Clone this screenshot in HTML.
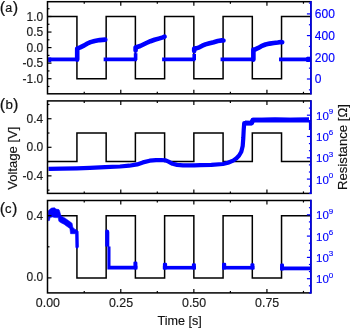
<!DOCTYPE html>
<html><head><meta charset="utf-8"><style>
html,body{margin:0;padding:0;background:#fff;}
body{width:350px;height:328px;overflow:hidden;font-family:"Liberation Sans",sans-serif;}
svg{display:block;will-change:transform;}
</style></head><body>
<svg width="350" height="328" viewBox="0 0 350 328" font-family="Liberation Sans, sans-serif">
<rect width="350" height="328" fill="#fff"/>
<polyline points="47.50,16.50 76.93,16.50 76.93,78.70 106.16,78.70 106.16,16.50 135.39,16.50 135.39,78.70 164.62,78.70 164.62,16.50 193.85,16.50 193.85,78.70 223.08,78.70 223.08,16.50 252.31,16.50 252.31,78.70 281.54,78.70 281.54,16.50 310.90,16.50" fill="none" stroke="#000" stroke-width="1.5" />
<polyline points="48.30,59.40 78.43,59.40" fill="none" stroke="#0000ff" stroke-width="3.8" />
<polyline points="103.66,59.40 136.89,59.40" fill="none" stroke="#0000ff" stroke-width="3.8" />
<polyline points="162.12,59.40 195.35,59.40" fill="none" stroke="#0000ff" stroke-width="3.8" />
<polyline points="220.58,59.40 253.81,59.40" fill="none" stroke="#0000ff" stroke-width="3.8" />
<polyline points="279.04,59.40 310.90,59.40" fill="none" stroke="#0000ff" stroke-width="3.8" />
<polyline points="77.20,59.60 77.20,48.60 80.20,47.40 84.30,45.40 87.40,43.50 90.50,42.10 94.60,41.00 99.70,40.10 105.30,39.60" fill="none" stroke="#0000ff" stroke-width="4.6" stroke-linejoin="round" stroke-linecap="round"/>
<polyline points="135.60,50.60 135.60,47.50 137.10,47.00 140.20,46.00 143.30,44.50 146.40,43.00 150.50,41.20 154.60,39.80 158.70,38.60 162.90,37.40 164.60,36.70" fill="none" stroke="#0000ff" stroke-width="4.6" stroke-linejoin="round" stroke-linecap="round"/>
<polyline points="194.20,51.00 194.20,48.60 196.20,48.40 199.30,47.30 202.30,45.70 205.40,44.40 209.50,43.20 213.70,42.20 217.80,41.00 221.90,40.40 223.50,40.50" fill="none" stroke="#0000ff" stroke-width="4.6" stroke-linejoin="round" stroke-linecap="round"/>
<polyline points="253.40,59.60 253.40,49.60 255.20,49.40 258.30,47.90 261.30,46.20 265.50,44.50 269.60,43.60 273.70,43.00 277.80,42.50 280.90,42.00 282.20,42.20" fill="none" stroke="#0000ff" stroke-width="4.6" stroke-linejoin="round" stroke-linecap="round"/>
<polyline points="135.60,53.20 135.60,60.00" fill="none" stroke="#0000ff" stroke-width="3.6" />
<rect x="48.2" y="57.5" width="3" height="4.8" fill="#0000ff"/>
<rect x="306" y="57.0" width="4.3" height="5" rx="1" fill="#0000ff"/>
<polyline points="194.20,53.80 194.20,60.00" fill="none" stroke="#0000ff" stroke-width="3.6" />
<rect x="47.50" y="1.70" width="263.40" height="92.10" fill="none" stroke="#000" stroke-width="1.5"/>
<line x1="84.24" y1="1.70" x2="84.24" y2="3.70" stroke="#000" stroke-width="1.2"/>
<line x1="84.24" y1="93.80" x2="84.24" y2="91.80" stroke="#000" stroke-width="1.2"/>
<line x1="120.78" y1="1.70" x2="120.78" y2="5.70" stroke="#000" stroke-width="1.2"/>
<line x1="120.78" y1="93.80" x2="120.78" y2="89.80" stroke="#000" stroke-width="1.2"/>
<line x1="157.31" y1="1.70" x2="157.31" y2="3.70" stroke="#000" stroke-width="1.2"/>
<line x1="157.31" y1="93.80" x2="157.31" y2="91.80" stroke="#000" stroke-width="1.2"/>
<line x1="193.85" y1="1.70" x2="193.85" y2="5.70" stroke="#000" stroke-width="1.2"/>
<line x1="193.85" y1="93.80" x2="193.85" y2="89.80" stroke="#000" stroke-width="1.2"/>
<line x1="230.39" y1="1.70" x2="230.39" y2="3.70" stroke="#000" stroke-width="1.2"/>
<line x1="230.39" y1="93.80" x2="230.39" y2="91.80" stroke="#000" stroke-width="1.2"/>
<line x1="266.93" y1="1.70" x2="266.93" y2="5.70" stroke="#000" stroke-width="1.2"/>
<line x1="266.93" y1="93.80" x2="266.93" y2="89.80" stroke="#000" stroke-width="1.2"/>
<line x1="303.46" y1="1.70" x2="303.46" y2="3.70" stroke="#000" stroke-width="1.2"/>
<line x1="303.46" y1="93.80" x2="303.46" y2="91.80" stroke="#000" stroke-width="1.2"/>
<line x1="47.50" y1="78.70" x2="51.50" y2="78.70" stroke="#000" stroke-width="1.2"/>
<line x1="47.50" y1="63.15" x2="51.50" y2="63.15" stroke="#000" stroke-width="1.2"/>
<line x1="47.50" y1="47.60" x2="51.50" y2="47.60" stroke="#000" stroke-width="1.2"/>
<line x1="47.50" y1="32.05" x2="51.50" y2="32.05" stroke="#000" stroke-width="1.2"/>
<line x1="47.50" y1="16.50" x2="51.50" y2="16.50" stroke="#000" stroke-width="1.2"/>
<line x1="47.50" y1="86.47" x2="49.50" y2="86.47" stroke="#000" stroke-width="1.2"/>
<line x1="47.50" y1="70.93" x2="49.50" y2="70.93" stroke="#000" stroke-width="1.2"/>
<line x1="47.50" y1="55.38" x2="49.50" y2="55.38" stroke="#000" stroke-width="1.2"/>
<line x1="47.50" y1="39.83" x2="49.50" y2="39.83" stroke="#000" stroke-width="1.2"/>
<line x1="47.50" y1="24.27" x2="49.50" y2="24.27" stroke="#000" stroke-width="1.2"/>
<line x1="47.50" y1="8.73" x2="49.50" y2="8.73" stroke="#000" stroke-width="1.2"/>
<line x1="310.90" y1="1.00" x2="310.90" y2="94.50" stroke="#0000ff" stroke-width="1.5"/>
<line x1="310.90" y1="79.00" x2="306.90" y2="79.00" stroke="#0000ff" stroke-width="1.2"/>
<line x1="310.90" y1="57.30" x2="306.90" y2="57.30" stroke="#0000ff" stroke-width="1.2"/>
<line x1="310.90" y1="35.60" x2="306.90" y2="35.60" stroke="#0000ff" stroke-width="1.2"/>
<line x1="310.90" y1="13.90" x2="306.90" y2="13.90" stroke="#0000ff" stroke-width="1.2"/>
<line x1="310.90" y1="89.85" x2="308.90" y2="89.85" stroke="#0000ff" stroke-width="1.2"/>
<line x1="310.90" y1="68.15" x2="308.90" y2="68.15" stroke="#0000ff" stroke-width="1.2"/>
<line x1="310.90" y1="46.45" x2="308.90" y2="46.45" stroke="#0000ff" stroke-width="1.2"/>
<line x1="310.90" y1="24.75" x2="308.90" y2="24.75" stroke="#0000ff" stroke-width="1.2"/>
<line x1="310.90" y1="3.05" x2="308.90" y2="3.05" stroke="#0000ff" stroke-width="1.2"/>
<polyline points="47.50,161.58 76.93,161.58 76.93,133.02 106.16,133.02 106.16,161.58 135.39,161.58 135.39,133.02 164.62,133.02 164.62,161.58 193.85,161.58 193.85,133.02 223.08,133.02 223.08,161.58 252.31,161.58 252.31,133.02 281.54,133.02 281.54,161.58 310.90,161.58" fill="none" stroke="#000" stroke-width="1.5" />
<polyline points="48.50,168.80 62.00,168.60 77.00,168.30 90.00,167.80 105.00,167.20 120.00,166.50 129.10,165.70 137.10,164.40 142.90,162.40 149.70,160.70 156.00,160.10 161.00,160.00 165.70,160.40 168.50,161.60 172.60,163.80 177.10,164.90 183.00,165.40 194.30,165.30 200.00,165.20 211.40,164.90 222.90,164.00 228.00,162.80 233.10,160.60 236.50,158.20 239.10,155.50 241.30,151.80 242.70,146.00 243.30,138.00 243.70,130.00 244.20,123.10 251.60,123.10 253.00,119.80 262.00,119.90 275.00,119.50 290.00,119.80 309.00,119.70" fill="none" stroke="#0000ff" stroke-width="4.2" stroke-linejoin="round"/>
<polyline points="245.00,123.00 251.60,123.10 253.00,120.10 262.00,120.20 275.00,119.90 290.00,120.10 309.00,120.00" fill="none" stroke="#0000ff" stroke-width="4.8" stroke-linejoin="round"/>
<polyline points="309.90,120.00 309.90,129.80" fill="none" stroke="#0000ff" stroke-width="2.0" />
<rect x="47.50" y="100.90" width="263.40" height="92.50" fill="none" stroke="#000" stroke-width="1.5"/>
<line x1="84.24" y1="100.90" x2="84.24" y2="102.90" stroke="#000" stroke-width="1.2"/>
<line x1="84.24" y1="193.40" x2="84.24" y2="191.40" stroke="#000" stroke-width="1.2"/>
<line x1="120.78" y1="100.90" x2="120.78" y2="104.90" stroke="#000" stroke-width="1.2"/>
<line x1="120.78" y1="193.40" x2="120.78" y2="189.40" stroke="#000" stroke-width="1.2"/>
<line x1="157.31" y1="100.90" x2="157.31" y2="102.90" stroke="#000" stroke-width="1.2"/>
<line x1="157.31" y1="193.40" x2="157.31" y2="191.40" stroke="#000" stroke-width="1.2"/>
<line x1="193.85" y1="100.90" x2="193.85" y2="104.90" stroke="#000" stroke-width="1.2"/>
<line x1="193.85" y1="193.40" x2="193.85" y2="189.40" stroke="#000" stroke-width="1.2"/>
<line x1="230.39" y1="100.90" x2="230.39" y2="102.90" stroke="#000" stroke-width="1.2"/>
<line x1="230.39" y1="193.40" x2="230.39" y2="191.40" stroke="#000" stroke-width="1.2"/>
<line x1="266.93" y1="100.90" x2="266.93" y2="104.90" stroke="#000" stroke-width="1.2"/>
<line x1="266.93" y1="193.40" x2="266.93" y2="189.40" stroke="#000" stroke-width="1.2"/>
<line x1="303.46" y1="100.90" x2="303.46" y2="102.90" stroke="#000" stroke-width="1.2"/>
<line x1="303.46" y1="193.40" x2="303.46" y2="191.40" stroke="#000" stroke-width="1.2"/>
<line x1="47.50" y1="175.86" x2="51.50" y2="175.86" stroke="#000" stroke-width="1.2"/>
<line x1="47.50" y1="147.30" x2="51.50" y2="147.30" stroke="#000" stroke-width="1.2"/>
<line x1="47.50" y1="118.74" x2="51.50" y2="118.74" stroke="#000" stroke-width="1.2"/>
<line x1="47.50" y1="190.14" x2="49.50" y2="190.14" stroke="#000" stroke-width="1.2"/>
<line x1="47.50" y1="161.58" x2="49.50" y2="161.58" stroke="#000" stroke-width="1.2"/>
<line x1="47.50" y1="133.02" x2="49.50" y2="133.02" stroke="#000" stroke-width="1.2"/>
<line x1="47.50" y1="104.46" x2="49.50" y2="104.46" stroke="#000" stroke-width="1.2"/>
<line x1="310.90" y1="100.20" x2="310.90" y2="194.10" stroke="#0000ff" stroke-width="1.5"/>
<line x1="310.90" y1="179.10" x2="306.90" y2="179.10" stroke="#0000ff" stroke-width="1.2"/>
<line x1="310.90" y1="157.80" x2="306.90" y2="157.80" stroke="#0000ff" stroke-width="1.2"/>
<line x1="310.90" y1="136.50" x2="306.90" y2="136.50" stroke="#0000ff" stroke-width="1.2"/>
<line x1="310.90" y1="115.20" x2="306.90" y2="115.20" stroke="#0000ff" stroke-width="1.2"/>
<line x1="310.90" y1="193.30" x2="308.90" y2="193.30" stroke="#0000ff" stroke-width="1.2"/>
<line x1="310.90" y1="186.20" x2="308.90" y2="186.20" stroke="#0000ff" stroke-width="1.2"/>
<line x1="310.90" y1="172.00" x2="308.90" y2="172.00" stroke="#0000ff" stroke-width="1.2"/>
<line x1="310.90" y1="164.90" x2="308.90" y2="164.90" stroke="#0000ff" stroke-width="1.2"/>
<line x1="310.90" y1="150.70" x2="308.90" y2="150.70" stroke="#0000ff" stroke-width="1.2"/>
<line x1="310.90" y1="143.60" x2="308.90" y2="143.60" stroke="#0000ff" stroke-width="1.2"/>
<line x1="310.90" y1="129.40" x2="308.90" y2="129.40" stroke="#0000ff" stroke-width="1.2"/>
<line x1="310.90" y1="122.30" x2="308.90" y2="122.30" stroke="#0000ff" stroke-width="1.2"/>
<line x1="310.90" y1="108.10" x2="308.90" y2="108.10" stroke="#0000ff" stroke-width="1.2"/>
<polyline points="47.50,215.70 76.93,215.70 76.93,277.90 106.16,277.90 106.16,215.70 135.39,215.70 135.39,277.90 164.62,277.90 164.62,215.70 193.85,215.70 193.85,277.90 223.08,277.90 223.08,215.70 252.31,215.70 252.31,277.90 281.54,277.90 281.54,215.70 310.90,215.70" fill="none" stroke="#000" stroke-width="1.5" />
<path d="M48.2,211.0 L50.1,209.1 L51.6,208.1 L54.5,207.8 L56.0,209.1 L58.9,209.6 L59.6,211.0 L60.4,214.0 L61.1,215.9 L65.5,218.4 L68.4,220.6 L70.6,222.0 L72.1,223.5 L72.8,227.2 L75.0,229.4 L76.5,229.8 L78.2,231.5 L78.5,246.9 L77.3,248.4 L75.8,247.5 L75.5,233.7 L70.6,233.7 L69.9,228.6 L67.0,226.4 L64.0,224.2 L61.1,222.8 L58.9,221.3 L58.2,217.6 L55.2,217.6 L52.3,216.9 L50.1,217.6 L49.4,220.6 L48.2,220.6 Z" fill="#0000ff" stroke="#0000ff" stroke-width="0.6" stroke-linejoin="round"/>
<path d="M105.2,231 Q105.5,229.6 107.3,229.6 Q109.3,229.8 109.3,232 L109.3,246.5 L110.5,246.5 L110.5,265.8 L137.4,265.8 L137.4,269.4 L107.4,269.4 L107.4,246.5 L105.2,246.5 Z" fill="#0000ff"/>
<rect x="133.4" y="261.4" width="4.0" height="8" rx="1.3" fill="#0000ff"/>
<rect x="162.90" y="265.9" width="33.00" height="3.6" fill="#0000ff"/>
<rect x="162.90" y="262.8" width="4.2" height="6.7" rx="1.3" fill="#0000ff"/>
<rect x="191.90" y="263.3" width="4.0" height="6.2" rx="1.3" fill="#0000ff"/>
<rect x="222.00" y="265.9" width="32.40" height="3.6" fill="#0000ff"/>
<rect x="222.00" y="262.8" width="4.2" height="6.7" rx="1.3" fill="#0000ff"/>
<rect x="250.40" y="263.3" width="4.0" height="6.2" rx="1.3" fill="#0000ff"/>
<rect x="280.1" y="266.5" width="30.80" height="3.8" fill="#0000ff"/>
<rect x="280.1" y="263.5" width="3.9" height="7" rx="1.3" fill="#0000ff"/>
<rect x="47.50" y="200.50" width="263.40" height="92.40" fill="none" stroke="#000" stroke-width="1.5"/>
<line x1="84.24" y1="200.50" x2="84.24" y2="202.50" stroke="#000" stroke-width="1.2"/>
<line x1="84.24" y1="292.90" x2="84.24" y2="290.90" stroke="#000" stroke-width="1.2"/>
<line x1="120.78" y1="200.50" x2="120.78" y2="204.50" stroke="#000" stroke-width="1.2"/>
<line x1="120.78" y1="292.90" x2="120.78" y2="288.90" stroke="#000" stroke-width="1.2"/>
<line x1="157.31" y1="200.50" x2="157.31" y2="202.50" stroke="#000" stroke-width="1.2"/>
<line x1="157.31" y1="292.90" x2="157.31" y2="290.90" stroke="#000" stroke-width="1.2"/>
<line x1="193.85" y1="200.50" x2="193.85" y2="204.50" stroke="#000" stroke-width="1.2"/>
<line x1="193.85" y1="292.90" x2="193.85" y2="288.90" stroke="#000" stroke-width="1.2"/>
<line x1="230.39" y1="200.50" x2="230.39" y2="202.50" stroke="#000" stroke-width="1.2"/>
<line x1="230.39" y1="292.90" x2="230.39" y2="290.90" stroke="#000" stroke-width="1.2"/>
<line x1="266.93" y1="200.50" x2="266.93" y2="204.50" stroke="#000" stroke-width="1.2"/>
<line x1="266.93" y1="292.90" x2="266.93" y2="288.90" stroke="#000" stroke-width="1.2"/>
<line x1="303.46" y1="200.50" x2="303.46" y2="202.50" stroke="#000" stroke-width="1.2"/>
<line x1="303.46" y1="292.90" x2="303.46" y2="290.90" stroke="#000" stroke-width="1.2"/>
<line x1="47.50" y1="277.90" x2="51.50" y2="277.90" stroke="#000" stroke-width="1.2"/>
<line x1="47.50" y1="215.70" x2="51.50" y2="215.70" stroke="#000" stroke-width="1.2"/>
<line x1="47.50" y1="246.80" x2="49.50" y2="246.80" stroke="#000" stroke-width="1.2"/>
<line x1="310.90" y1="199.80" x2="310.90" y2="293.60" stroke="#0000ff" stroke-width="1.5"/>
<line x1="310.90" y1="278.70" x2="306.90" y2="278.70" stroke="#0000ff" stroke-width="1.2"/>
<line x1="310.90" y1="257.40" x2="306.90" y2="257.40" stroke="#0000ff" stroke-width="1.2"/>
<line x1="310.90" y1="236.10" x2="306.90" y2="236.10" stroke="#0000ff" stroke-width="1.2"/>
<line x1="310.90" y1="214.80" x2="306.90" y2="214.80" stroke="#0000ff" stroke-width="1.2"/>
<line x1="310.90" y1="292.90" x2="308.90" y2="292.90" stroke="#0000ff" stroke-width="1.2"/>
<line x1="310.90" y1="285.80" x2="308.90" y2="285.80" stroke="#0000ff" stroke-width="1.2"/>
<line x1="310.90" y1="271.60" x2="308.90" y2="271.60" stroke="#0000ff" stroke-width="1.2"/>
<line x1="310.90" y1="264.50" x2="308.90" y2="264.50" stroke="#0000ff" stroke-width="1.2"/>
<line x1="310.90" y1="250.30" x2="308.90" y2="250.30" stroke="#0000ff" stroke-width="1.2"/>
<line x1="310.90" y1="243.20" x2="308.90" y2="243.20" stroke="#0000ff" stroke-width="1.2"/>
<line x1="310.90" y1="229.00" x2="308.90" y2="229.00" stroke="#0000ff" stroke-width="1.2"/>
<line x1="310.90" y1="221.90" x2="308.90" y2="221.90" stroke="#0000ff" stroke-width="1.2"/>
<line x1="310.90" y1="207.70" x2="308.90" y2="207.70" stroke="#0000ff" stroke-width="1.2"/>
<text x="43.20" y="20.55" text-anchor="end" font-size="12" fill="#1a1a1a" stroke="#1a1a1a" stroke-width="0.15" >1.0</text>
<text x="43.20" y="36.10" text-anchor="end" font-size="12" fill="#1a1a1a" stroke="#1a1a1a" stroke-width="0.15" >0.5</text>
<text x="43.20" y="51.65" text-anchor="end" font-size="12" fill="#1a1a1a" stroke="#1a1a1a" stroke-width="0.15" >0.0</text>
<text x="43.20" y="67.20" text-anchor="end" font-size="12" fill="#1a1a1a" stroke="#1a1a1a" stroke-width="0.15" >-0.5</text>
<text x="43.20" y="82.75" text-anchor="end" font-size="12" fill="#1a1a1a" stroke="#1a1a1a" stroke-width="0.15" >-1.0</text>
<text x="43.20" y="122.79" text-anchor="end" font-size="12" fill="#1a1a1a" stroke="#1a1a1a" stroke-width="0.15" >0.4</text>
<text x="43.20" y="151.35" text-anchor="end" font-size="12" fill="#1a1a1a" stroke="#1a1a1a" stroke-width="0.15" >0.0</text>
<text x="43.20" y="179.91" text-anchor="end" font-size="12" fill="#1a1a1a" stroke="#1a1a1a" stroke-width="0.15" >-0.4</text>
<text x="43.20" y="219.75" text-anchor="end" font-size="12" fill="#1a1a1a" stroke="#1a1a1a" stroke-width="0.15" >0.4</text>
<text x="43.20" y="281.35" text-anchor="end" font-size="12" fill="#1a1a1a" stroke="#1a1a1a" stroke-width="0.15" >0.0</text>
<text x="314.80" y="18.20" text-anchor="start" font-size="12" fill="#0000ff" stroke="#0000ff" stroke-width="0.15" >600</text>
<text x="314.80" y="39.90" text-anchor="start" font-size="12" fill="#0000ff" stroke="#0000ff" stroke-width="0.15" >400</text>
<text x="314.80" y="61.60" text-anchor="start" font-size="12" fill="#0000ff" stroke="#0000ff" stroke-width="0.15" >200</text>
<text x="314.80" y="83.30" text-anchor="start" font-size="12" fill="#0000ff" stroke="#0000ff" stroke-width="0.15" >0</text>
<text x="316.0" y="119.70" font-size="11.5" fill="#0000ff" stroke="#0000ff" stroke-width="0.15">10<tspan font-size="8" dy="-5.6">9</tspan></text>
<text x="316.0" y="219.30" font-size="11.5" fill="#0000ff" stroke="#0000ff" stroke-width="0.15">10<tspan font-size="8" dy="-5.6">9</tspan></text>
<text x="316.0" y="141.00" font-size="11.5" fill="#0000ff" stroke="#0000ff" stroke-width="0.15">10<tspan font-size="8" dy="-5.6">6</tspan></text>
<text x="316.0" y="240.60" font-size="11.5" fill="#0000ff" stroke="#0000ff" stroke-width="0.15">10<tspan font-size="8" dy="-5.6">6</tspan></text>
<text x="316.0" y="162.30" font-size="11.5" fill="#0000ff" stroke="#0000ff" stroke-width="0.15">10<tspan font-size="8" dy="-5.6">3</tspan></text>
<text x="316.0" y="261.90" font-size="11.5" fill="#0000ff" stroke="#0000ff" stroke-width="0.15">10<tspan font-size="8" dy="-5.6">3</tspan></text>
<text x="316.0" y="183.60" font-size="11.5" fill="#0000ff" stroke="#0000ff" stroke-width="0.15">10<tspan font-size="8" dy="-5.6">0</tspan></text>
<text x="316.0" y="283.20" font-size="11.5" fill="#0000ff" stroke="#0000ff" stroke-width="0.15">10<tspan font-size="8" dy="-5.6">0</tspan></text>
<text x="47.90" y="306.90" text-anchor="middle" font-size="12.4" fill="#1a1a1a" stroke="#1a1a1a" stroke-width="0.15" >0.00</text>
<text x="120.98" y="306.90" text-anchor="middle" font-size="12.4" fill="#1a1a1a" stroke="#1a1a1a" stroke-width="0.15" >0.25</text>
<text x="194.05" y="306.90" text-anchor="middle" font-size="12.4" fill="#1a1a1a" stroke="#1a1a1a" stroke-width="0.15" >0.50</text>
<text x="267.12" y="306.90" text-anchor="middle" font-size="12.4" fill="#1a1a1a" stroke="#1a1a1a" stroke-width="0.15" >0.75</text>
<text x="179.60" y="324.80" text-anchor="middle" font-size="12.6" fill="#111" stroke="#111" stroke-width="0.15" >Time [s]</text>
<text transform="translate(17.1,158.2) rotate(-90)" text-anchor="middle" font-size="13.1" fill="#111" stroke="#111" stroke-width="0.15">Voltage [V]</text>
<text transform="translate(346.8,147.0) rotate(-90)" text-anchor="middle" font-size="13.2" fill="#111" stroke="#111" stroke-width="0.15">Resistance [&#937;]</text>
<g stroke="#111" stroke-width="0.2" fill="#111"><text y="12.80" x="-0.2" font-size="16.3">(</text><text y="12.20" x="5.2" font-size="12.5">a</text><text y="12.80" x="12.700000000000001" font-size="16.3">)</text></g>
<g stroke="#111" stroke-width="0.2" fill="#111"><text y="109.60" x="-0.2" font-size="16.3">(</text><text y="109.00" x="5.5" font-size="13.3">b</text><text y="109.60" x="13.1" font-size="16.3">)</text></g>
<g stroke="#111" stroke-width="0.2" fill="#111"><text y="213.50" x="-0.2" font-size="16.3">(</text><text y="212.90" x="5.0" font-size="13.0">c</text><text y="213.50" x="12.1" font-size="16.3">)</text></g>
</svg>
</body></html>
